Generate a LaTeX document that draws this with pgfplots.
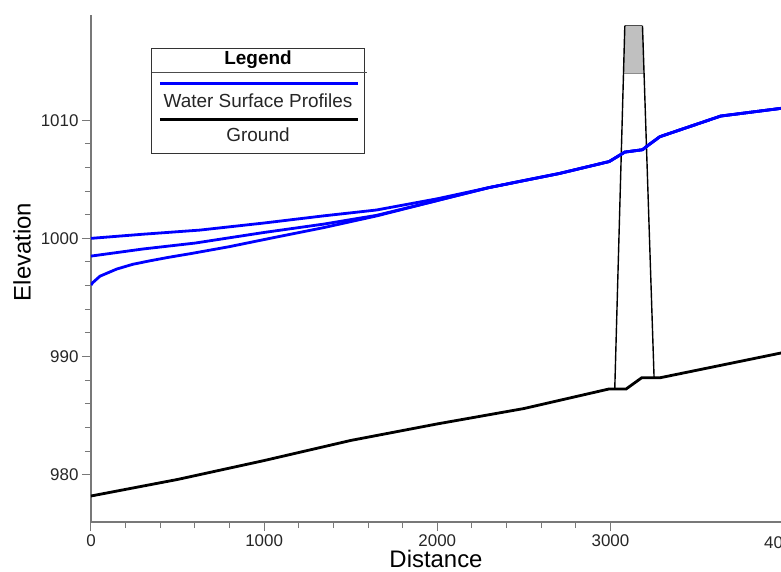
\documentclass[border=0pt]{standalone}
\usepackage{fontspec}
\setmainfont{Liberation Sans}
\usepackage{pgfplots}
\pgfplotsset{compat=1.18}
\usetikzlibrary{calc}

\definecolor{wsblue}{RGB}{0,0,255}
\definecolor{axgray}{RGB}{120,120,120}
\definecolor{deckgray}{RGB}{192,192,192}

\begin{document}
\begin{tikzpicture}
\begin{axis}[
  name=ax,
  scale only axis,
  width=690bp, height=507bp,
  xmin=0, xmax=3985,
  ymin=976, ymax=1018.9,
  axis x line*=bottom,
  axis y line*=left,
  axis line style={-, axgray, line width=1.2bp},
  xtick={0,1000,2000,3000},
  ytick={980,990,1000,1010},
  minor x tick num=4,
  minor y tick num=4,
  tick align=outside,
  major tick length=9bp,
  minor tick length=6bp,
  tick style={axgray, line width=1bp},
  /pgf/number format/assume math mode=true,
  /pgf/number format/set thousands separator={},
  tick label style={font=\fontsize{17}{20}\selectfont, text=black!85},
  xlabel={Distance},
  ylabel={Elevation},
  label style={font=\fontsize{24}{28}\selectfont},
  xlabel style={at={(axis description cs:0.5,-0.073)}, anchor=center},
  ylabel style={at={(axis description cs:-0.1,0.5325)}, anchor=center},
  clip=true,
]

% culvert / bridge deck
\addplot[fill=deckgray, draw=none] coordinates {
  (3075,1014) (3083,1018) (3185,1018) (3193,1014)
} -- cycle;
\addplot[black!70, line width=1.2bp] coordinates {(3083,1018) (3185,1018)};
\addplot[black!45, line width=0.6bp] coordinates {(3075,1014) (3193,1014)};
\addplot[black, line width=1.4bp] coordinates {
  (3025,987.3) (3083,1018)
};
\addplot[black, line width=1.4bp] coordinates {
  (3185,1018) (3252,988.2)
};

% water surface profiles
\addplot[wsblue, line width=2.8bp] coordinates {
  (0,1000.0) (300,1000.35) (629,1000.7) (1000,1001.3) (1341,1001.9)
  (1649,1002.4) (2000,1003.35) (2300,1004.3) (2708,1005.5) (2993,1006.5)
  (3083,1007.3) (3185,1007.5) (3220,1007.9) (3285,1008.6) (3637,1010.35)
  (3985,1011.0)
};
\addplot[wsblue, line width=2.8bp] coordinates {
  (0,998.5) (300,999.1) (600,999.6) (1000,1000.5) (1341,1001.2)
  (1650,1001.95) (2000,1003.2) (2300,1004.3) (2708,1005.5) (2993,1006.5)
  (3083,1007.3) (3185,1007.5) (3220,1007.9) (3285,1008.6) (3637,1010.35)
  (3985,1011.0)
};
\addplot[wsblue, line width=2.8bp] coordinates {
  (0,996.05) (10,996.25) (25,996.45) (52,996.8) (100,997.1) (148,997.4)
  (240,997.8) (340,998.1) (450,998.4) (572,998.7) (800,999.3)
  (1000,999.9) (1341,1000.9) (1650,1001.9) (2000,1003.2) (2300,1004.3)
  (2708,1005.5) (2993,1006.5) (3083,1007.3) (3185,1007.5) (3220,1007.9)
  (3285,1008.6) (3637,1010.35) (3985,1011.0)
};

% ground
\addplot[black, line width=2.8bp] coordinates {
  (0,978.2) (500,979.6) (1000,981.2) (1500,982.9) (2000,984.3)
  (2500,985.6) (2990,987.25) (3090,987.25) (3180,988.2) (3285,988.2)
  (3985,990.3)
};
\end{axis}

% cut-off tick label at right edge
\node[anchor=north, font=\fontsize{17}{20}\selectfont, text=black!85]
  at ($(ax.south west)+(783bp-91bp,-11bp)$) {4000};

% legend box
\begin{scope}[shift={($(ax.south west)+(-91bp,522bp)$)}, x=1bp, y=-1bp]
  \fill[white] (151.7,48.3) rectangle (365,153.3);
  \draw[black!80, line width=1bp] (151.7,48.3) rectangle (365,153.3);
  \draw[black!70, line width=1bp] (151.7,72.3) -- (366.7,72.3);
  \node[font=\fontsize{19}{22}\selectfont\bfseries] at (258,59.5) {Legend};
  \draw[wsblue, line width=3bp] (160,83.3) -- (358,83.3);
  \node[font=\fontsize{19}{22}\selectfont, text=black!85] at (258,100.7) {Water Surface Profiles};
  \draw[black, line width=3bp] (160,119.3) -- (358,119.3);
  \node[font=\fontsize{19}{22}\selectfont, text=black!85] at (258,135) {Ground};
\end{scope}

\pgfresetboundingbox
\path[use as bounding box] ($(ax.south west)+(-91bp,-50bp)$) rectangle ($(ax.north east)+(0bp,15bp)$);
\end{tikzpicture}
\end{document}
